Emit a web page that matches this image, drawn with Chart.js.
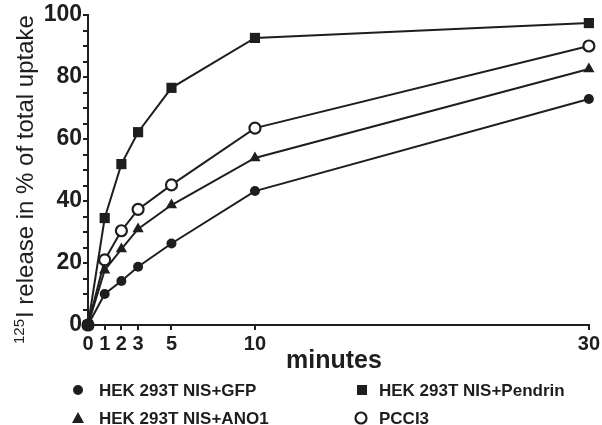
<!DOCTYPE html>
<html>
<head>
<meta charset="utf-8">
<script src="https://cdn.jsdelivr.net/npm/chart.js@4/dist/chart.umd.min.js"></script>
<style>
html,body{margin:0;padding:0;background:#fff;}
#wrap{width:602px;height:425px;position:relative;}
</style>
</head>
<body>
<div id="wrap"><canvas id="c" width="602" height="425"></canvas></div>
<script>
const times = [0, 1, 2, 3, 5, 10, 30];
const xTickValues = [0, 1, 2, 3, 5, 10, 30];
const gfp = [0, 10.0, 14.2, 18.8, 26.3, 43.2, 72.9];
const pendrin = [0, 34.5, 51.9, 62.2, 76.5, 92.6, 97.4];
const ano1 = [0, 17.7, 24.5, 31.0, 38.7, 53.9, 82.6];
const pcci3 = [0, 21.0, 30.4, 37.3, 45.2, 63.5, 90.0];
const seriesLabels = ['HEK 293T NIS+GFP', 'HEK 293T NIS+Pendrin', 'HEK 293T NIS+ANO1', 'PCCI3'];
const yTitleSup = '125';
const yTitleMain = 'I release in % of total uptake';
const xTitle = 'minutes';

const INK = '#1e1e1e';
const pts = arr => arr.map((v, i) => ({x: times[i], y: v}));

function drawMarker(ctx, style, x, y) {
  ctx.save();
  ctx.fillStyle = INK; ctx.strokeStyle = INK;
  if (style === 'circle') {
    ctx.beginPath(); ctx.arc(x, y, 5, 0, Math.PI * 2); ctx.fill();
  } else if (style === 'rect') {
    ctx.fillRect(x - 5, y - 5, 10, 10);
  } else if (style === 'triangle') {
    ctx.beginPath(); ctx.moveTo(x, y - 6); ctx.lineTo(x + 6, y + 5); ctx.lineTo(x - 6, y + 5); ctx.closePath(); ctx.fill();
  } else if (style === 'open') {
    ctx.lineWidth = 2.2; ctx.fillStyle = '#fff';
    ctx.beginPath(); ctx.arc(x, y, 5.5, 0, Math.PI * 2); ctx.fill(); ctx.stroke();
  }
  ctx.restore();
}

const textPlugin = {
  id: 'textPlugin',
  afterDraw(chart) {
    const ctx = chart.ctx;
    ctx.save();
    ctx.fillStyle = INK;
    // y title
    ctx.save();
    ctx.translate(33, 344);
    ctx.rotate(-Math.PI / 2);
    ctx.textAlign = 'left';
    ctx.textBaseline = 'alphabetic';
    ctx.font = '15px "Liberation Sans", Arial, sans-serif';
    ctx.fillText(yTitleSup, 0, -9);
    const w = ctx.measureText(yTitleSup).width;
    ctx.font = '24px "Liberation Sans", Arial, sans-serif';
    ctx.fillText(yTitleMain, w + 1, 0);
    ctx.restore();
    // x title
    ctx.font = 'bold 25px "Liberation Sans", Arial, sans-serif';
    ctx.textAlign = 'center';
    ctx.textBaseline = 'alphabetic';
    ctx.fillText(xTitle, 334, 368);
    // legend
    const leg = [
      {s: 'circle', mx: 78, tx: 99, y: 390, t: seriesLabels[0]},
      {s: 'rect', mx: 362, tx: 379, y: 390, t: seriesLabels[1]},
      {s: 'triangle', mx: 78, tx: 99, y: 418, t: seriesLabels[2]},
      {s: 'open', mx: 361, tx: 379, y: 418, t: seriesLabels[3]}
    ];
    ctx.font = 'bold 17px "Liberation Sans", Arial, sans-serif';
    ctx.textAlign = 'left';
    ctx.textBaseline = 'middle';
    leg.forEach(l => {
      drawMarker(ctx, l.s, l.mx, l.y);
      ctx.fillStyle = INK;
      ctx.fillText(l.t, l.tx, l.y + 1);
    });
    ctx.restore();
  }
};

const common = {borderColor: INK, borderWidth: 2, pointBorderColor: INK, pointBackgroundColor: INK, tension: 0, clip: false, fill: false};

new Chart(document.getElementById('c'), {
  type: 'line',
  data: {
    datasets: [
      Object.assign({}, common, {label: seriesLabels[0], data: pts(gfp), pointStyle: 'circle', pointRadius: 5, pointBorderWidth: 0}),
      Object.assign({}, common, {label: seriesLabels[1], data: pts(pendrin), pointStyle: 'rect', pointRadius: 7.2, pointBorderWidth: 0}),
      Object.assign({}, common, {label: seriesLabels[2], data: pts(ano1), pointStyle: 'triangle', pointRadius: 6.5, pointBorderWidth: 0}),
      Object.assign({}, common, {label: seriesLabels[3], data: pts(pcci3), pointStyle: 'circle', pointRadius: 5.5, pointBorderWidth: 2.2, pointBackgroundColor: '#fff'})
    ]
  },
  options: {
    responsive: false,
    animation: false,
    devicePixelRatio: 1,
    layout: {padding: {top: 15, right: 13, left: 0, bottom: 0}},
    plugins: {legend: {display: false}, title: {display: false}, tooltip: {enabled: false}},
    scales: {
      x: {
        type: 'linear', min: 0, max: 30,
        afterBuildTicks: s => { s.ticks = xTickValues.map(v => ({value: v})); },
        afterFit: s => { s.height = 100; },
        grid: {drawOnChartArea: false, drawTicks: true, tickLength: 5, color: INK, lineWidth: 2},
        border: {display: true, color: INK, width: 2},
        ticks: {color: INK, padding: 2, maxRotation: 0, autoSkip: false, font: {family: '"Liberation Sans", Arial, sans-serif', size: 20, weight: 'bold'}, callback: v => String(v)}
      },
      y: {
        type: 'linear', min: 0, max: 100,
        afterFit: s => { s.width = 88; },
        grid: {drawOnChartArea: false, drawTicks: true, tickLength: 5, color: INK, lineWidth: 2},
        border: {display: true, color: INK, width: 2},
        ticks: {stepSize: 5, color: INK, padding: 1, autoSkip: false, font: {family: '"Liberation Sans", Arial, sans-serif', size: 23, weight: 'bold'}, callback: v => (v % 20 === 0 ? String(v) : '')}
      }
    }
  },
  plugins: [textPlugin]
});
</script>
</body>
</html>
